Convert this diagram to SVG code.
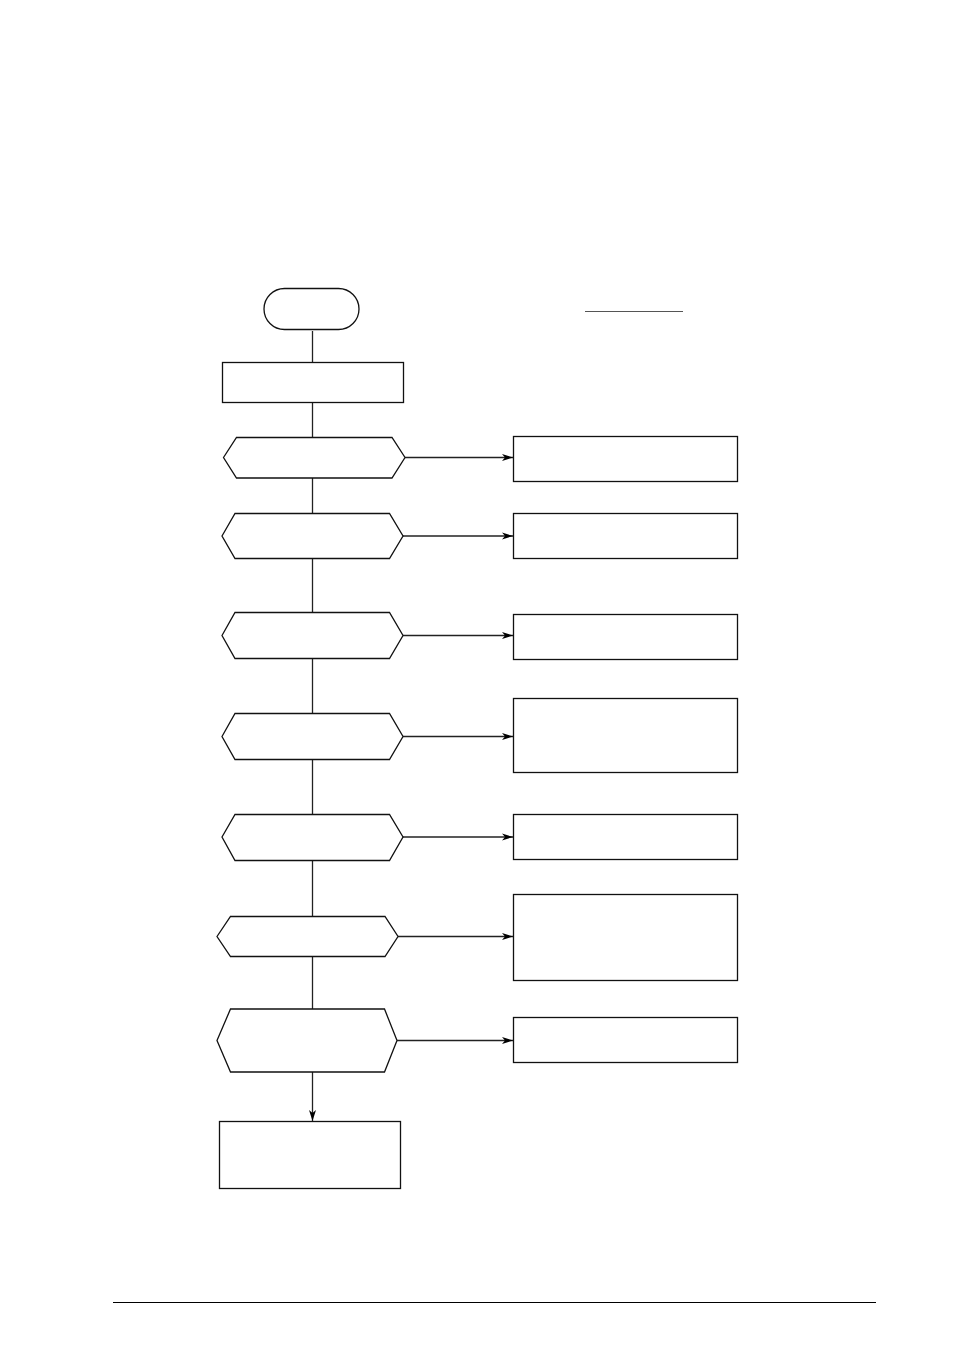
<svg xmlns="http://www.w3.org/2000/svg" width="954" height="1351" viewBox="0 0 954 1351">
<style>
.s{fill:#fff;stroke:#111;stroke-width:1.3}
.c{fill:none;stroke:#222;stroke-width:1.3}
</style>
<defs>
<marker id="ah" markerUnits="userSpaceOnUse" markerWidth="12" markerHeight="8" refX="11" refY="4" orient="auto">
<path d="M0,0.5 L11,4 L0,7.5 L3,4 z" fill="#000"/>
</marker>
</defs>
<rect width="954" height="1351" fill="#fff"/>
<g id="connectors">
<line class="c" x1="312.5" y1="331" x2="312.5" y2="362"/>
<line class="c" x1="312.5" y1="402" x2="312.5" y2="437"/>
<line class="c" x1="312.5" y1="478" x2="312.5" y2="513"/>
<line class="c" x1="312.5" y1="558" x2="312.5" y2="612"/>
<line class="c" x1="312.5" y1="658" x2="312.5" y2="713"/>
<line class="c" x1="312.5" y1="759" x2="312.5" y2="814"/>
<line class="c" x1="312.5" y1="860" x2="312.5" y2="916"/>
<line class="c" x1="312.5" y1="956" x2="312.5" y2="1009"/>
<line class="c" x1="312.5" y1="1072" x2="312.5" y2="1121" marker-end="url(#ah)"/>
<line class="c" x1="405" y1="457.5" x2="513" y2="457.5" marker-end="url(#ah)"/>
<line class="c" x1="403" y1="536" x2="513" y2="536" marker-end="url(#ah)"/>
<line class="c" x1="403" y1="635.5" x2="513" y2="635.5" marker-end="url(#ah)"/>
<line class="c" x1="403" y1="736.5" x2="513" y2="736.5" marker-end="url(#ah)"/>
<line class="c" x1="403" y1="837" x2="513" y2="837" marker-end="url(#ah)"/>
<line class="c" x1="398" y1="936.5" x2="513" y2="936.5" marker-end="url(#ah)"/>
<line class="c" x1="397" y1="1040.5" x2="513" y2="1040.5" marker-end="url(#ah)"/>
</g>
<g id="start"><rect class="s" x="264" y="288.5" width="95" height="41" rx="20.5"/></g>
<g id="title-line"><line x1="585" y1="311.5" x2="683" y2="311.5" stroke="#555" stroke-width="1.2"/></g>
<g id="step1"><rect class="s" x="222.5" y="362.5" width="181" height="40"/></g>
<g id="dec1"><polygon class="s" points="223.5,457.5 236.5,437.5 392,437.5 405,457.5 392,478 236.5,478"/></g>
<g id="dec2"><polygon class="s" points="222,536 235,513.5 389.5,513.5 403,536 389.5,558.5 235,558.5"/></g>
<g id="dec3"><polygon class="s" points="222,635.5 235,612.5 389.5,612.5 403,635.5 389.5,658.5 235,658.5"/></g>
<g id="dec4"><polygon class="s" points="222,736.5 235,713.5 389.5,713.5 403,736.5 389.5,759.5 235,759.5"/></g>
<g id="dec5"><polygon class="s" points="222,837 235,814.5 389.5,814.5 403,837 389.5,860.5 235,860.5"/></g>
<g id="dec6"><polygon class="s" points="217,936.5 230.5,916.5 385,916.5 398,936.5 385,956.5 230.5,956.5"/></g>
<g id="dec7"><polygon class="s" points="217,1040.5 230.5,1009 384.5,1009 397,1040.5 384.5,1072 230.5,1072"/></g>
<g id="box1"><rect class="s" x="513.5" y="436.5" width="224" height="45"/></g>
<g id="box2"><rect class="s" x="513.5" y="513.5" width="224" height="45"/></g>
<g id="box3"><rect class="s" x="513.5" y="614.5" width="224" height="45"/></g>
<g id="box4"><rect class="s" x="513.5" y="698.5" width="224" height="74"/></g>
<g id="box5"><rect class="s" x="513.5" y="814.5" width="224" height="45"/></g>
<g id="box6"><rect class="s" x="513.5" y="894.5" width="224" height="86"/></g>
<g id="box7"><rect class="s" x="513.5" y="1017.5" width="224" height="45"/></g>
<g id="end"><rect class="s" x="219.5" y="1121.5" width="181" height="67"/></g>
<g id="footer-line"><line x1="113" y1="1302.5" x2="876" y2="1302.5" stroke="#000" stroke-width="1.2"/></g>
</svg>
